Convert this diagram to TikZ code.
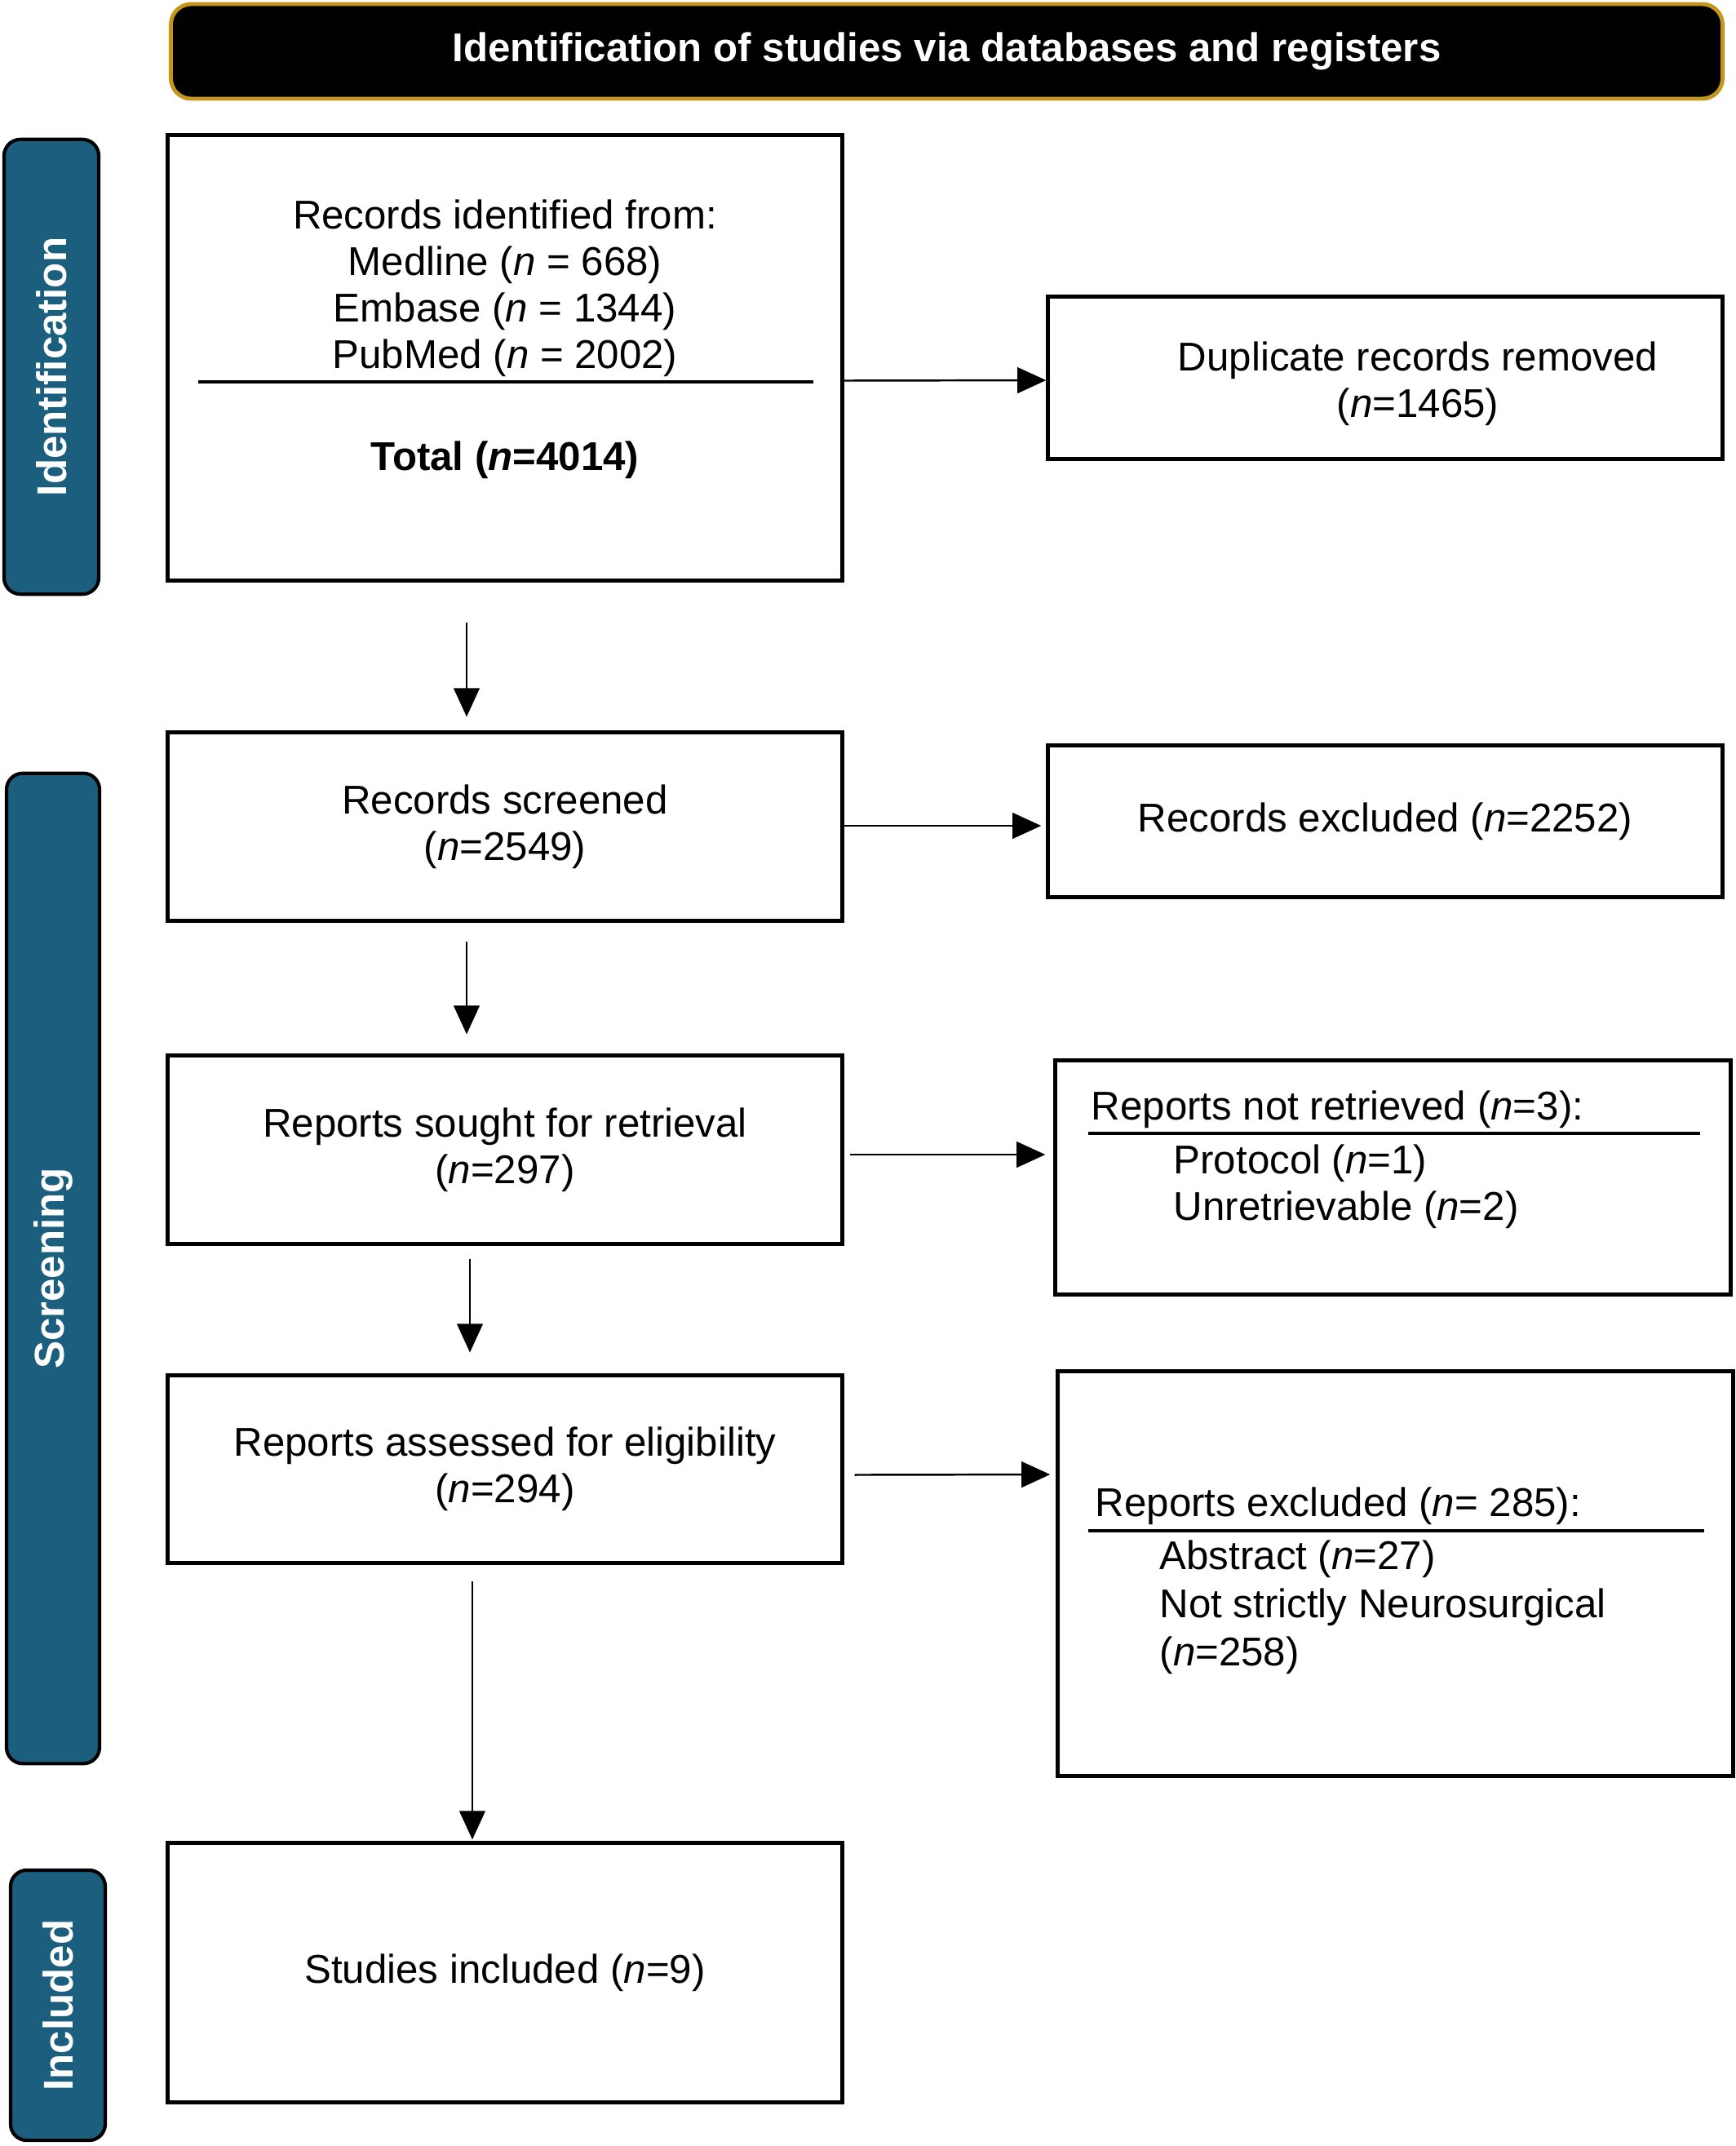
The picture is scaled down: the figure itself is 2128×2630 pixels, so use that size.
\documentclass[tikz,border=0pt]{standalone}
\usepackage{fontspec}
\setmainfont{Liberation Sans}
\usetikzlibrary{arrows.meta}
\definecolor{teal}{HTML}{1B5E7D}
\definecolor{gold}{HTML}{C5961C}
\newcommand{\fs}{\fontsize{14}{16.2}\selectfont}
\begin{document}
\begin{tikzpicture}[x=0.01cm,y=-0.01cm,
  box/.style={draw, line width=1.4pt, inner sep=0pt, align=center, font=\fs},
  txt/.style={inner sep=0pt, font=\fs},
  tab/.style={draw=black, fill=teal, line width=1.2pt, rounded corners=0.2cm, inner sep=0pt},
  tablabel/.style={text=white, font=\fontsize{14.5}{16}\selectfont\bfseries, rotate=90, inner sep=0pt},
  arr/.style={line width=0.7pt, -{Triangle[length=10pt,width=9pt]}},
  rule/.style={line width=1pt}]
\useasboundingbox (0,0) rectangle (2128,2630);
% banner
\node[draw=gold, fill=black, line width=1.4pt, rounded corners=0.25cm,
      minimum width=19.01cm, minimum height=1.16cm, inner sep=0pt,
      text=white, font=\fontsize{14}{16}\selectfont\bfseries] (banner) at (1160.5,63)
      {Identification of studies via databases and registers};
% side tabs
\node[tab, minimum width=1.16cm, minimum height=5.57cm] (tabid) at (63,449.5) {};
\node[tablabel] (tabidl) at (tabid.center) {Identification};
\node[tab, minimum width=1.14cm, minimum height=12.13cm] (tabscr) at (65,1554.5) {};
\node[tablabel] (tabscrl) at (tabscr.center) {Screening};
\node[tab, minimum width=1.16cm, minimum height=3.31cm] (tabinc) at (71,2457.5) {};
\node[tablabel] (tabincl) at (tabinc.center) {Included};
% main boxes
\node[box, minimum width=8.26cm, minimum height=5.45cm] (box1) at (619,438.5) {};
\node[txt, align=center] (box1t) at (619,353)
  {Records identified from:\\Medline (\textit{n} = 668)\\Embase (\textit{n} = 1344)\\PubMed (\textit{n} = 2002)};
\coordinate (r1a) at (243,468);
\coordinate (r1b) at (997,468);
\draw[rule] (r1a) -- (r1b);
\node[txt, font=\fs\bfseries] (total) at (619,564) {Total (\textit{n}=4014)};
\node[box, minimum width=8.26cm, minimum height=1.98cm] (dup) at (1698,463) {};
\node[txt, align=center] (dupt) at (1738,470) {Duplicate records removed\\(\textit{n}=1465)};
\node[box, minimum width=8.26cm, minimum height=2.30cm] (scr) at (619,1013)
  {Records screened\\(\textit{n}=2549)};
\node[box, minimum width=8.26cm, minimum height=1.85cm] (rexc) at (1698,1006.5)
  {Records excluded (\textit{n}=2252)};
\node[box, minimum width=8.26cm, minimum height=2.30cm] (sought) at (619,1409)
  {Reports sought for retrieval\\(\textit{n}=297)};
\node[box, minimum width=8.27cm, minimum height=2.86cm] (notret) at (1707.5,1443) {};
\node[txt, anchor=west] (notreth) at (1337,1360) {Reports not retrieved (\textit{n}=3):};
\coordinate (r2a) at (1334,1389);
\coordinate (r2b) at (2084,1389);
\draw[rule] (r2a) -- (r2b);
\node[txt, anchor=west, align=left] (notreti) at (1438,1454)
  {Protocol (\textit{n}=1)\\Unretrievable (\textit{n}=2)};
\node[box, minimum width=8.26cm, minimum height=2.29cm] (assess) at (619,1800.5)
  {Reports assessed for eligibility\\(\textit{n}=294)};
\node[box, minimum width=8.27cm, minimum height=4.95cm] (repexc) at (1710.5,1928.5) {};
\node[txt, anchor=west] (repexch) at (1342,1846) {Reports excluded (\textit{n}= 285):};
\coordinate (r3a) at (1334,1876);
\coordinate (r3b) at (2089,1876);
\draw[rule] (r3a) -- (r3b);
\node[txt, anchor=west, align=left, font=\fontsize{14}{16.8}\selectfont] (repexci) at (1421,1970)
  {Abstract (\textit{n}=27)\\Not strictly Neurosurgical\\(\textit{n}=258)};
\node[box, minimum width=8.26cm, minimum height=3.17cm] (incl) at (619,2417.5)
  {Studies included (\textit{n}=9)};
% horizontal arrows
\draw[arr] ([shift={(0,28)}]box1.east) -- (dup.west |- 0,466);
\draw[arr] ([shift={(0,-1)}]scr.east) -- ([shift={(-6,0)}]rexc.west |- 0,1012);
\draw[arr] ([shift={(7,6)}]sought.east) -- ([shift={(-10,0)}]notret.west |- 0,1415);
\draw[arr] ([shift={(13,7)}]assess.east) -- ([shift={(-7,0)}]repexc.west |- 0,1807);
% vertical arrows
\draw[arr] ([shift={(-47,49)}]box1.south) -- ([shift={(-47,-17)}]scr.north);
\draw[arr] ([shift={(-47,23)}]scr.south) -- ([shift={(-47,-24)}]sought.north);
\draw[arr] ([shift={(-43,16)}]sought.south) -- ([shift={(-43,-26)}]assess.north);
\draw[arr] ([shift={(-40,20)}]assess.south) -- ([shift={(-40,-2)}]incl.north);
\end{tikzpicture}
\end{document}
